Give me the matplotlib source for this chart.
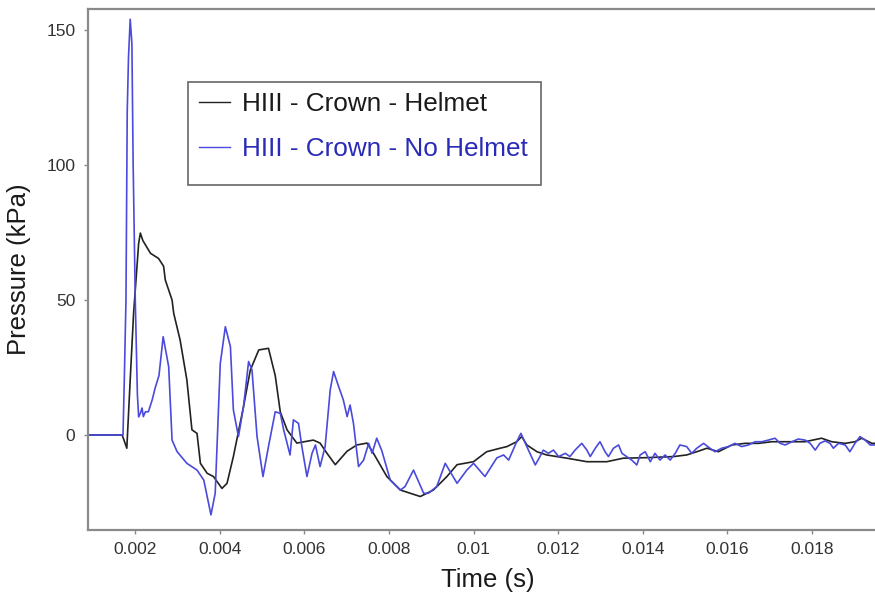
import matplotlib
matplotlib.use('Agg')
import matplotlib.pyplot as plt
from matplotlib.patches import Rectangle

# ── pressure traces at the crown sensor (time in s, pressure in kPa) ─────────
helmet_t = [
    0.00080, 0.00169, 0.00180, 0.00188, 0.00196, 0.00208, 0.00212, 0.00218,
    0.00236, 0.00255, 0.00267, 0.00271, 0.00287, 0.00291, 0.00306, 0.00322,
    0.00334, 0.00346, 0.00354, 0.00370, 0.00385, 0.00405, 0.00417, 0.00432,
    0.00456, 0.00472, 0.00492, 0.00515, 0.00531, 0.00543, 0.00559, 0.00582,
    0.00621, 0.00637, 0.00653, 0.00673, 0.00701, 0.00724, 0.00748, 0.00763,
    0.00795, 0.00827, 0.00874, 0.00905, 0.00937, 0.00961, 0.01000, 0.01031,
    0.01063, 0.01079, 0.01102, 0.01114, 0.01126, 0.01150, 0.01173, 0.01221,
    0.01268, 0.01315, 0.01354, 0.01410, 0.01473, 0.01504, 0.01528, 0.01552,
    0.01579, 0.01611, 0.01642, 0.01674, 0.01705, 0.01744, 0.01784, 0.01823,
    0.01847, 0.01879, 0.01902, 0.01918, 0.01942, 0.01950,
]
helmet_p = [
    0.0, 0.0, -4.9, 20.4, 45.0, 71.0, 74.8, 72.0,
    67.3, 65.4, 62.5, 57.4, 50.0, 45.0, 35.2, 20.4,
    1.9, 0.6, -10.5, -14.2, -15.4, -19.8, -17.9, -8.0,
    10.5, 24.0, 31.5, 32.1, 22.0, 8.5, 1.9, -3.0,
    -1.9, -3.0, -6.7, -11.0, -6.0, -3.7, -3.0, -6.7,
    -15.4, -20.4, -22.8, -20.4, -15.4, -11.0, -9.9, -6.2,
    -4.9, -4.3, -2.5, -0.6, -3.7, -6.2, -7.4, -8.6,
    -9.9, -9.9, -8.6, -8.4, -8.0, -7.4, -6.2, -4.9,
    -6.2, -3.7, -3.1, -3.1, -2.5, -2.5, -2.5, -1.2,
    -2.5, -3.1, -2.5, -1.2, -3.1, -3.1,
]

nohelmet_t = [
    0.00080, 0.00171, 0.00174, 0.00178, 0.00181, 0.00184, 0.00188, 0.00192,
    0.00195, 0.00200, 0.00205, 0.00208, 0.00212, 0.00216, 0.00219, 0.00224,
    0.00231, 0.00240, 0.00247, 0.00256, 0.00266, 0.00279, 0.00287, 0.00299,
    0.00322, 0.00346, 0.00362, 0.00379, 0.00389, 0.00401, 0.00413, 0.00425,
    0.00432, 0.00444, 0.00456, 0.00468, 0.00476, 0.00488, 0.00502, 0.00515,
    0.00531, 0.00543, 0.00551, 0.00566, 0.00574, 0.00586, 0.00594, 0.00606,
    0.00618, 0.00626, 0.00637, 0.00649, 0.00661, 0.00669, 0.00681, 0.00692,
    0.00701, 0.00708, 0.00716, 0.00728, 0.00740, 0.00752, 0.00760, 0.00771,
    0.00783, 0.00803, 0.00827, 0.00838, 0.00858, 0.00882, 0.00893, 0.00913,
    0.00933, 0.00961, 0.00984, 0.01000, 0.01027, 0.01055, 0.01071, 0.01083,
    0.01102, 0.01112, 0.01126, 0.01146, 0.01157, 0.01165, 0.01177, 0.01189,
    0.01201, 0.01217, 0.01228, 0.01240, 0.01256, 0.01268, 0.01276, 0.01288,
    0.01299, 0.01311, 0.01319, 0.01331, 0.01343, 0.01351, 0.01362, 0.01374,
    0.01386, 0.01394, 0.01406, 0.01418, 0.01429, 0.01441, 0.01453, 0.01465,
    0.01477, 0.01488, 0.01504, 0.01516, 0.01528, 0.01544, 0.01559, 0.01571,
    0.01587, 0.01603, 0.01618, 0.01634, 0.01650, 0.01666, 0.01682, 0.01697,
    0.01713, 0.01725, 0.01737, 0.01753, 0.01768, 0.01784, 0.01796, 0.01808,
    0.01819, 0.01831, 0.01843, 0.01851, 0.01863, 0.01879, 0.01890, 0.01902,
    0.01914, 0.01926, 0.01938, 0.01950,
]
nohelmet_p = [
    0.0, 0.0, 20.0, 50.0, 120.0, 140.0, 154.0, 145.0,
    100.0, 50.0, 15.0, 6.7, 8.0, 10.0, 6.8, 8.6,
    8.6, 13.0, 17.4, 22.0, 36.4, 25.3, -1.9, -6.2,
    -10.5, -13.0, -16.7, -29.6, -21.6, 26.5, 40.1, 32.7,
    9.3, -0.6, 10.5, 27.2, 24.1, -0.6, -15.4, -4.3,
    8.6, 8.0, 1.9, -7.4, 5.6, 4.3, -4.3, -15.4,
    -6.8, -3.7, -11.7, -4.3, 16.7, 23.5, 17.9, 13.0,
    6.8, 11.1, 4.3, -11.7, -9.3, -3.1, -6.8, -1.2,
    -5.8, -16.7, -20.4, -19.1, -13.0, -21.6, -21.6, -19.1,
    -10.5, -17.9, -13.0, -10.5, -15.4, -8.5, -7.4, -9.3,
    -2.5, 0.6, -4.3, -11.1, -8.0, -5.6, -6.8, -5.6,
    -8.0, -6.8, -8.0, -5.6, -3.1, -5.6, -8.0, -4.9,
    -2.5, -6.2, -8.0, -4.9, -3.7, -6.8, -8.0, -9.3,
    -11.1, -7.4, -6.2, -9.9, -6.8, -9.3, -7.4, -9.3,
    -6.8, -3.7, -4.3, -6.8, -4.9, -3.1, -4.9, -6.2,
    -4.9, -4.3, -3.1, -4.3, -3.7, -2.5, -2.5, -1.9,
    -1.2, -3.1, -3.7, -2.5, -1.5, -1.9, -3.1, -5.6,
    -3.1, -2.2, -3.1, -4.9, -3.1, -3.7, -6.2, -3.1,
    -0.6, -1.9, -3.7, -3.7,
]

x_ticks = [0.002, 0.004, 0.006, 0.008, 0.010, 0.012, 0.014, 0.016, 0.018]
x_tick_labels = ['0.002', '0.004', '0.006', '0.008', '0.01',
                 '0.012', '0.014', '0.016', '0.018']
y_ticks = [0, 50, 100, 150]

plt.rcParams['font.family'] = ['Liberation Sans', 'DejaVu Sans']

BLUE = '#4a4adc'
BLUE_TEXT = '#2a2ab8'
SPINE = '#8a8a8a'

fig = plt.figure(figsize=(8.75, 5.94), dpi=100)
ax = fig.add_axes([88 / 875, 1 - 530 / 594, 1 - 88 / 875, (530 - 9) / 594])

ax.plot(helmet_t, helmet_p, color='#222222', lw=1.2,
        label='HIII - Crown - Helmet')
ax.plot(nohelmet_t, nohelmet_p, color=BLUE, lw=1.2,
        label='HIII - Crown - No Helmet')

ax.set_xlim(0.000882, 0.019494)
ax.set_ylim(-35.2, 157.8)
ax.set_xticks(x_ticks)
ax.set_xticklabels(x_tick_labels)
ax.set_yticks(y_ticks)

for side in ('left', 'bottom', 'top'):
    ax.spines[side].set_color(SPINE)
    ax.spines[side].set_linewidth(1.6)
ax.spines['right'].set_visible(False)
ax.tick_params(direction='out', length=3, width=1, color=SPINE,
               labelsize=12.5, labelcolor='#333333')
ax.tick_params(axis='x', pad=6)
ax.tick_params(axis='y', pad=6)

ax.set_xlabel('Time (s)', fontsize=18.5, color='#1a1a1a')
ax.set_ylabel('Pressure (kPa)', fontsize=18.5, color='#1a1a1a')
ax.xaxis.set_label_coords(0.508, -0.073)
ax.yaxis.set_label_coords(-0.072, 0.5)

# legend entries without a frame; the box is drawn separately so it can be
# taller than the two rows it holds
leg = ax.legend(loc='upper left', bbox_to_anchor=(0.1274, 0.8605),
                borderaxespad=0, fontsize=18.8, frameon=False,
                handlelength=1.2, handletextpad=0.45, labelspacing=0.8,
                borderpad=0.4)
for line in leg.get_lines():
    line.set_linewidth(1.0)
leg.get_texts()[0].set_color('#1a1a1a')
leg.get_texts()[1].set_color(BLUE_TEXT)
ax.add_patch(Rectangle((0.1274, 0.6622), 0.5756 - 0.1274, 0.8605 - 0.6622,
                       transform=ax.transAxes, facecolor='white',
                       edgecolor='#666666', lw=1.2, zorder=4.5))

fig.savefig('out.png', dpi=100)
